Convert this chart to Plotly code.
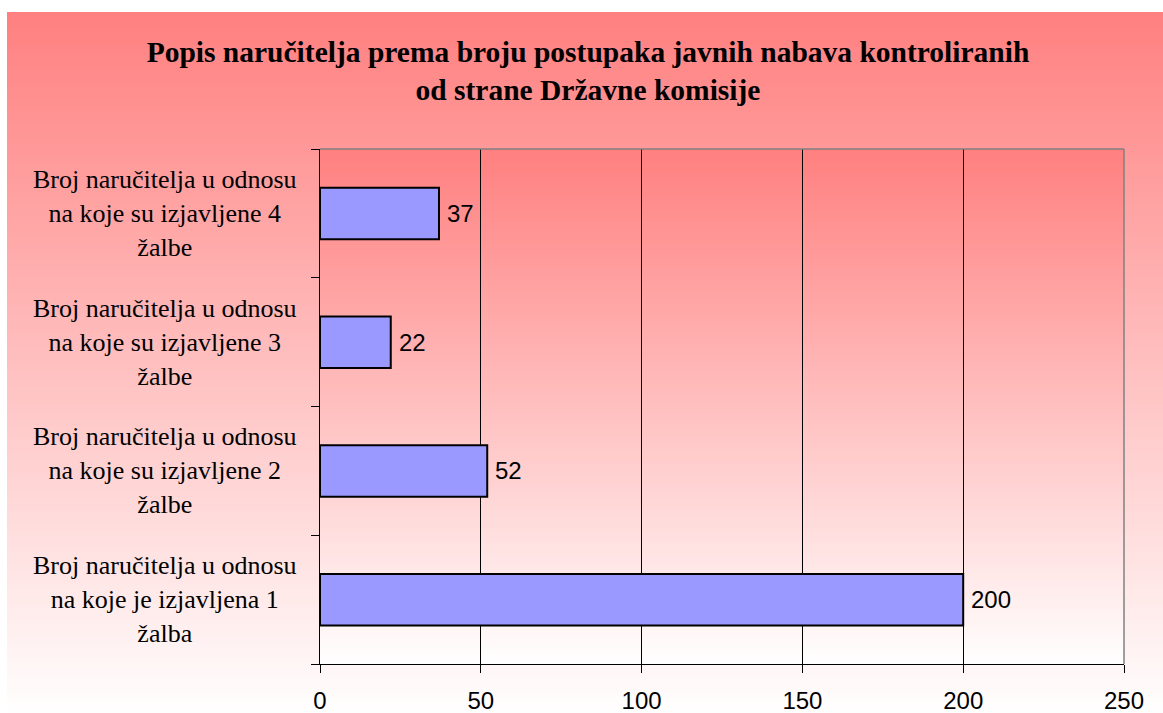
import plotly.graph_objects as go

# ---- data ----
categories = [
    "Broj naručitelja u odnosu<br>na koje je izjavljena 1<br>žalba",
    "Broj naručitelja u odnosu<br>na koje su izjavljene 2<br>žalbe",
    "Broj naručitelja u odnosu<br>na koje su izjavljene 3<br>žalbe",
    "Broj naručitelja u odnosu<br>na koje su izjavljene 4<br>žalbe",
]
values = [200, 52, 22, 37]
x_ticks = [0, 50, 100, 150, 200, 250]
title_text = ("<b>Popis naručitelja prema broju postupaka javnih nabava kontroliranih"
              "<br>od strane Državne komisije</b>")

W, H = 1163, 713
L, R, T, B = 320, 1124, 149, 664  # plot area in pixels


def px_x(x):
    return (x - L) / (R - L)


def px_y(y):
    return (B - y) / (B - T)


def grad_color(t):
    # t=0 -> #FF8080, t=1 -> white
    g = int(round(128 + 127 * t))
    return f"rgb(255,{g},{g})"


shapes = []


def gradient(x0, x1, y0, y1, step=3):
    y = y0
    n = y1 - y0
    while y < y1:
        t = (y - y0) / n
        shapes.append(dict(
            type="rect", xref="paper", yref="paper", layer="below",
            x0=px_x(x0), x1=px_x(x1), y0=px_y(min(y + step + 1, y1)), y1=px_y(y),
            fillcolor=grad_color(t), line=dict(width=0),
        ))
        y += step


# outer chart-area gradient, then the plot-area gradient
gradient(7, W + 2, 12, H + 2)
gradient(L, R, T, B)

# gray border top & right of plot area
shapes.append(dict(type="line", xref="paper", yref="paper", layer="above",
                   x0=0, x1=1, y0=1, y1=1, line=dict(color="#808080", width=1.5)))
shapes.append(dict(type="line", xref="paper", yref="paper", layer="above",
                   x0=1, x1=1, y0=0, y1=1, line=dict(color="#808080", width=1.5)))

fig = go.Figure()
fig.add_trace(go.Bar(
    y=categories, x=values, orientation="h",
    marker=dict(color="#9999FF", line=dict(color="black", width=2)),
    width=0.4, hoverinfo="x+y",
))

annotations = []
for c in categories:
    annotations.append(dict(
        x=px_x(165), xref="paper", y=c, yref="y", text=c, showarrow=False,
        xanchor="center", yanchor="middle", align="center",
        font=dict(family="Liberation Serif, Times New Roman", size=26, color="black"),
    ))
for c, v in zip(categories, values):
    annotations.append(dict(
        x=v, xref="x", y=c, yref="y", text=str(v), showarrow=False,
        xanchor="left", yanchor="middle", xshift=6,
        font=dict(family="Liberation Sans, Arial", size=24, color="black"),
    ))

fig.update_layout(
    width=W, height=H,
    margin=dict(l=L, r=W - R, t=T, b=H - B, pad=0),
    paper_bgcolor="white", plot_bgcolor="rgba(0,0,0,0)",
    showlegend=False,
    shapes=shapes, annotations=annotations,
    title=dict(text=title_text, x=588 / W, xref="container", xanchor="center",
               y=1 - 62 / H, yref="container", yanchor="middle",
               font=dict(family="Liberation Serif, Times New Roman", size=29.5, color="black")),
    xaxis=dict(range=[0, 250], tickvals=x_ticks, ticktext=[str(v) for v in x_ticks],
               showgrid=True, gridcolor="black", gridwidth=1,
               showline=True, linecolor="black", linewidth=1,
               ticks="outside", ticklen=8, tickcolor="black", tickwidth=1,
               ticklabelstandoff=7, automargin=False,
               tickfont=dict(family="Liberation Sans, Arial", size=24, color="black"),
               zeroline=False),
    yaxis=dict(categoryorder="array", categoryarray=categories,
               showticklabels=False, tickson="boundaries", automargin=False,
               ticks="outside", ticklen=8, tickcolor="black", tickwidth=1,
               showline=True, linecolor="black", linewidth=1,
               showgrid=False, zeroline=False),
)

fig.write_html("out.html", config={"displayModeBar": False},
               post_script="document.body.style.margin='0';document.body.style.overflow='hidden';")
